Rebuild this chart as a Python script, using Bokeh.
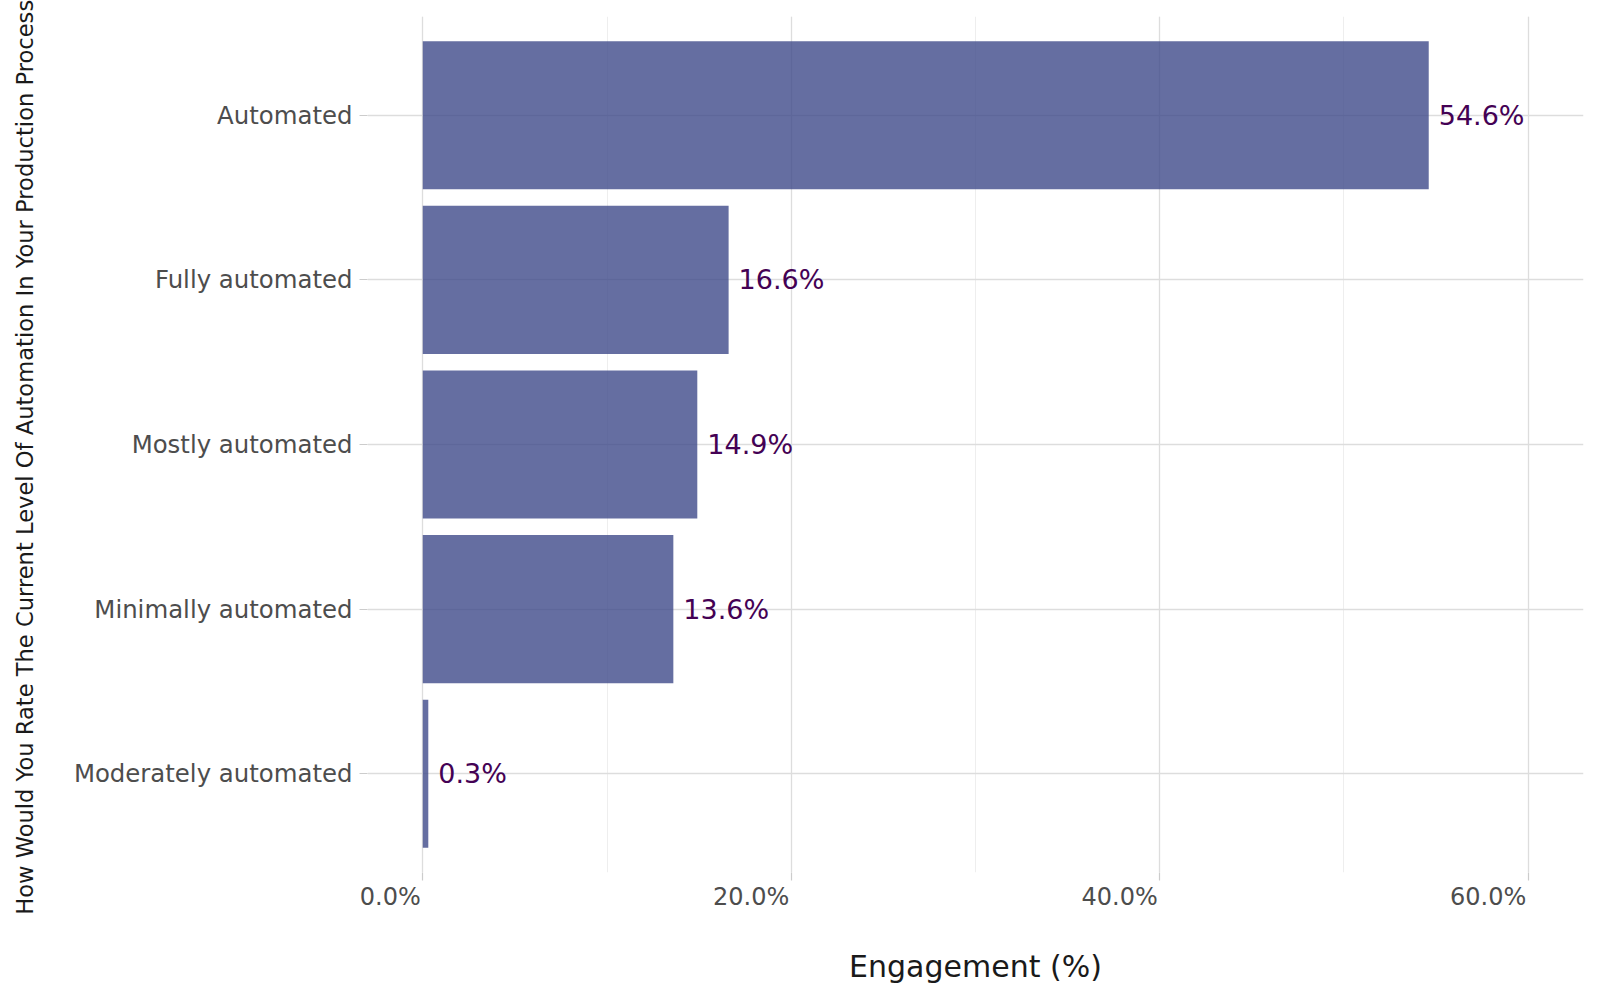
from bokeh.plotting import figure
from bokeh.models import (FactorRange, Range1d, SingleIntervalTicker, FixedTicker,
                          CustomJSTickFormatter, ColumnDataSource, LinearAxis)
from bokeh.core.properties import value
from bokeh.embed import file_html
from bokeh.resources import INLINE

# ---- data ----
categories = ["Automated", "Fully automated", "Mostly automated",
              "Minimally automated", "Moderately automated"]
engagement = [54.6, 16.6, 14.9, 13.6, 0.3]
x_ticks = [0, 20, 40, 60]
x_tick_labels = ["0.0%", "20.0%", "40.0%", "60.0%"]
x_title = "Engagement (%)"
y_title = "How Would You Rate The Current Level Of Automation In Your Production Processes"

FONT = "DejaVu Sans"
BAR = "#3E4A89"
X_START, X_END = -3, 63

W, H = 1592, 992
ML, MR, MT, MB = 367, 9, 16, 120
frame_w = W - ML - MR
px_per_unit = frame_w / (X_END - X_START)

# approximate DejaVu Sans advance widths (em) to right-align tick labels on their ticks
ADV = {**{d: 0.636 for d in "0123456789"}, ".": 0.318, "%": 0.950}
TICK_FS = 24


def label_width(s):
    return sum(ADV.get(c, 0.6) for c in s) * TICK_FS


factors = list(reversed(categories))
src = ColumnDataSource(dict(
    cat=categories,
    val=engagement,
    lab=[f"{v:.1f}%" for v in engagement],
))

p = figure(width=W, height=H,
           y_range=FactorRange(factors=factors, range_padding=0.1, range_padding_units="absolute"),
           x_range=Range1d(X_START, X_END), x_axis_location=None,
           output_backend="svg", toolbar_location=None,
           min_border_left=ML, min_border_right=MR, min_border_top=MT, min_border_bottom=MB)
p.outline_line_color = None
p.background_fill_color = "white"
p.border_fill_color = "white"

# bars
p.hbar(y="cat", left=0, right="val", height=0.9, source=src,
       fill_color=BAR, fill_alpha=0.8, line_color=None)

# value labels
p.text(x="val", y="cat", text="lab", source=src, x_offset=10,
       text_font=value(FONT), text_font_size="27px", text_color="#440154",
       text_baseline="middle", text_align="left")

# x axis A: tick marks only (nearest to frame)
xa = LinearAxis(ticker=FixedTicker(ticks=x_ticks))
xa.formatter = CustomJSTickFormatter(code="return ''")
xa.major_label_text_font_size = "0px"
xa.major_label_standoff = 0
xa.axis_line_color = None
xa.major_tick_in = 0
xa.major_tick_out = 8
xa.major_tick_line_color = "#CCCCCC"
xa.major_tick_line_width = 1.2
xa.minor_tick_line_color = None
p.add_layout(xa, "below")

# x axis B: right-aligned tick labels + title
shifted = [t - (label_width(l) / 2 + 2) / px_per_unit for t, l in zip(x_ticks, x_tick_labels)]
xb = LinearAxis(ticker=FixedTicker(ticks=shifted),
                major_label_overrides={s: l for s, l in zip(shifted, x_tick_labels)})
xb.axis_line_color = None
xb.major_tick_line_color = None
xb.major_tick_in = 0
xb.major_tick_out = 0
xb.minor_tick_line_color = None
xb.major_label_standoff = 2
xb.major_label_text_font = FONT
xb.major_label_text_font_size = f"{TICK_FS}px"
xb.major_label_text_color = "#4D4D4D"
xb.axis_label = x_title
xb.axis_label_text_font = FONT
xb.axis_label_text_font_size = "30px"
xb.axis_label_text_font_style = "normal"
xb.axis_label_text_color = "#1A1A1A"
xb.axis_label_standoff = 35
p.add_layout(xb, "below")

# y axis
ya = p.yaxis[0]
ya.axis_line_color = None
ya.major_tick_in = 0
ya.major_tick_out = 8
ya.major_tick_line_color = "#CCCCCC"
ya.major_tick_line_width = 1.2
ya.major_label_standoff = 7
ya.major_label_text_font = FONT
ya.major_label_text_font_size = "24.4px"
ya.major_label_text_color = "#4D4D4D"
ya.axis_label = y_title
ya.axis_label_text_font = FONT
ya.axis_label_text_font_size = "22.6px"
ya.axis_label_text_font_style = "normal"
ya.axis_label_text_color = "#1A1A1A"
ya.axis_label_standoff = 33

# grids
p.xgrid.ticker = SingleIntervalTicker(interval=20, num_minor_ticks=2)
p.xgrid.grid_line_color = "#DDDDDD"
p.xgrid.grid_line_width = 1.3
p.xgrid.minor_grid_line_color = "#EEEEEE"
p.xgrid.minor_grid_line_width = 1
p.ygrid.grid_line_color = "#DDDDDD"
p.ygrid.grid_line_width = 1.3

open("out.html", "w").write(file_html(p, INLINE))
